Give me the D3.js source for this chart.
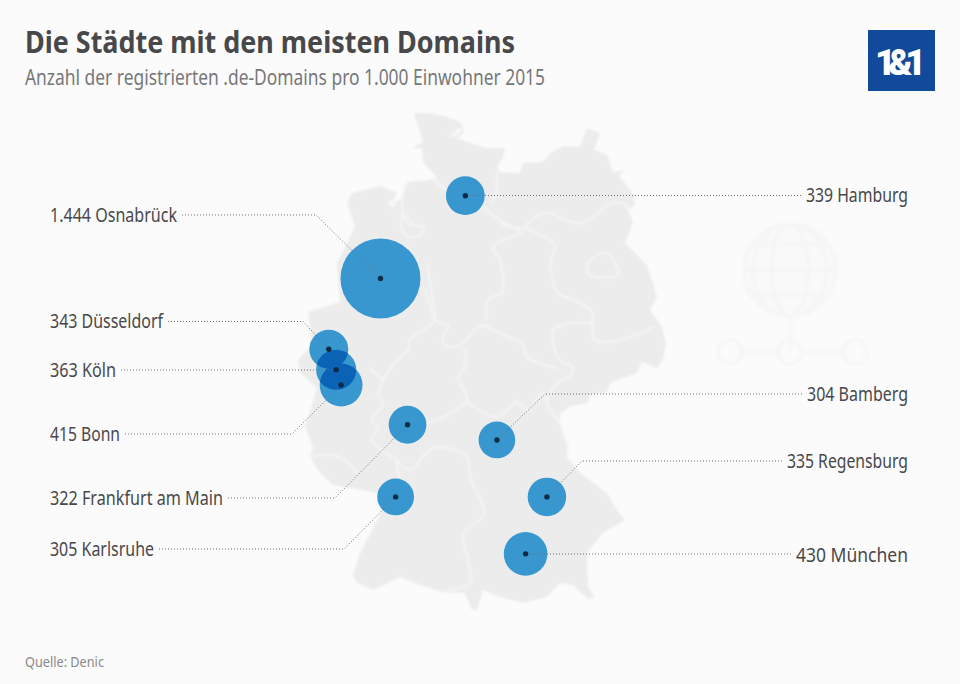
<!DOCTYPE html>
<html lang="de"><head><meta charset="utf-8">
<script src="https://cdn.jsdelivr.net/npm/d3@7/dist/d3.min.js"></script>
<style>html,body{margin:0;background:#fbfbfb}svg{display:block}text{font-family:"Noto Sans",sans-serif}</style>
</head><body><svg id="c" width="960" height="684"></svg>
<script>
// ---- data ----
const cities  = ["Hamburg","Osnabrück","Düsseldorf","Köln","Bonn","Frankfurt am Main","Karlsruhe","Bamberg","Regensburg","München"];
const domains = [339,1444,343,363,415,322,305,304,335,430];
const valueLabels = ["339","1.444","343","363","415","322","305","304","335","430"];
const lon = [10.13,8.06,6.80,6.98,7.10,8.72,8.43,10.90,12.12,11.60];
const lat = [53.55,52.30,51.23,50.92,50.69,50.09,49.00,49.86,49.00,48.14];
const side = ["r","l","l","l","l","l","l","r","r","r"];
const titleText = "Die Städte mit den meisten Domains";
const subtitleText = "Anzahl der registrierten .de-Domains pro 1.000 Einwohner 2015";
const sourceText = "Quelle: Denic";
const logoText = "1&1";

// ---- layout (label rows, baselines, leader elbows, label widths) ----
const labelRow   = [195.5,215,321.5,370,434,498,549,394,461,554];
const baseline   = [202,222,327.5,376.5,440.5,505,556,400.5,467.5,561.5];
const elbowAt    = [null,316,303,null,292,335,344,545,582,null];
const labelWidth = [102,127,113,66,70,173,104,101,121,112];

// ---- base map traced in sketch units ----
const germany = [[414,113],[428,113],[447,117],[462,123],[464,133],[456,138],[470,143],[487,148],[505,148],[503,158],[497,167],[500,172],[520,173],[523,163],[543,162],[550,153],[563,146],[580,147],[584,136],[587,128],[600,133],[594,150],[607,155],[613,172],[625,170],[619,176],[632,192],[635,205],[628,210],[633,222],[625,243],[647,265],[652,280],[657,297],[650,310],[662,327],[666,343],[663,360],[657,368],[642,362],[637,373],[610,383],[607,392],[590,395],[588,403],[572,406],[560,413],[560,427],[568,443],[567,457],[580,473],[607,493],[617,510],[625,520],[603,533],[587,553],[588,587],[595,597],[588,599],[573,585],[560,583],[547,597],[523,603],[500,597],[483,590],[477,610],[472,610],[465,593],[443,592],[420,585],[400,577],[373,590],[357,583],[353,575],[360,553],[372,530],[385,505],[378,493],[333,485],[320,473],[310,457],[313,447],[305,427],[312,405],[317,388],[300,372],[298,360],[312,345],[308,312],[340,302],[338,280],[337,263],[355,227],[347,203],[352,193],[380,186],[397,193],[392,203],[400,200],[407,182],[427,180],[437,178],[423,162],[422,148],[412,148],[423,142]];
const jadeBay = [[392,199],[397,204],[392,208],[388,203]];
const kielFjord = [[447,135],[455,137],[463,129],[458,128],[452,134]];
const berlin = [[588,263],[597,255],[605,253],[615,263],[618,275],[597,277],[588,273],[588,263]];
const borders = [
  [[433,178],[447,190],[470,200],[482,207],[500,220],[522,232]],
  [[497,172],[497,187],[492,203]],
  [[500,223],[523,228],[533,218],[550,213],[560,218],[580,223],[597,215],[607,205],[623,203],[630,210]],
  [[525,228],[555,245],[550,263],[553,280],[557,292],[580,303],[592,312],[593,337],[598,342],[627,338],[655,327]],
  [[592,323],[570,323],[553,330],[553,343],[560,360],[573,368],[568,377],[557,383],[547,403],[560,423],[567,445]],
  [[523,233],[493,247],[500,260],[502,292],[488,300],[487,320]],
  [[483,325],[500,333],[523,345],[527,357],[557,368]],
  [[425,287],[437,322],[448,325],[442,342],[450,347],[463,343],[477,327],[487,325]],
  [[465,347],[465,367],[458,377],[467,400],[443,417],[430,422],[425,427]],
  [[467,402],[497,417],[517,402],[527,410],[543,393],[547,403]],
  [[427,263],[433,303],[435,320],[410,340],[408,350],[397,360],[383,380],[378,395],[383,403],[372,420],[380,428]],
  [[370,368],[383,380]],
  [[397,460],[410,470],[433,448],[467,457],[470,477],[483,507],[483,517],[463,533],[468,560],[470,583],[447,590]],
  [[310,457],[333,455],[348,463],[357,473]],
  [[397,460],[398,473],[400,482]],
  [[380,428],[372,440],[397,460]],
  [[407,182],[402,200],[407,223],[425,228],[415,238],[403,232],[403,215],[413,223]],
];
// ---- decorative network icon, in sketch units ----
const iconCentre = [790,270], iconRadius = 46;
const iconNodes = [[730,352],[790,352],[855,352]];

// ---- scales ----
const x = d3.scaleLinear().domain([5,16]).range([255,706]);
const y = d3.scaleLinear().domain([47,55]).range([629.3,99.7]);
const r = d3.scaleSqrt().domain([0,1444]).range([0,40]);
const svg = d3.select("#c");
const line = d3.line();
const smooth = d3.line().curve(d3.curveCatmullRom.alpha(.5));

const defs = svg.append("defs");
defs.append("filter").attr("id","soft").append("feGaussianBlur").attr("stdDeviation",0.9);
defs.append("filter").attr("id","softer").append("feGaussianBlur").attr("stdDeviation",1.4);

// icon
const ic = svg.append("g").attr("filter","url(#softer)").attr("fill","none").attr("stroke","#f6f6f7").attr("stroke-width",4);
ic.append("circle").attr("cx",iconCentre[0]).attr("cy",iconCentre[1]).attr("r",iconRadius).attr("fill","#f9f9fa");
[0.4,0.8].forEach(k=>ic.append("ellipse").attr("cx",iconCentre[0]).attr("cy",iconCentre[1]).attr("rx",iconRadius*k).attr("ry",iconRadius));
[-0.55,0,0.55].forEach(k=>{const h=iconRadius*Math.sqrt(1-k*k);ic.append("line").attr("x1",iconCentre[0]-h).attr("x2",iconCentre[0]+h).attr("y1",iconCentre[1]+k*iconRadius).attr("y2",iconCentre[1]+k*iconRadius)});
ic.append("path").attr("d",line([[iconCentre[0],iconCentre[1]+iconRadius],iconNodes[1]]));
d3.pairs(iconNodes).forEach(([a,b])=>ic.append("path").attr("d",line([[a[0]+12,a[1]],[b[0]-12,b[1]]])));
iconNodes.forEach(n=>ic.append("circle").attr("cx",n[0]).attr("cy",n[1]).attr("r",12));

// map
const m = svg.append("g").attr("filter","url(#soft)");
m.append("path").attr("d",line(germany)+"Z").attr("fill","#ececed");
[jadeBay,kielFjord].forEach(p=>m.append("path").attr("d",line(p)+"Z").attr("fill","#f7f7f8"));
m.selectAll("path.b").data([...borders,berlin]).join("path").attr("class","b").attr("d",d=>smooth(d))
  .attr("fill","none").attr("stroke","#f6f6f7").attr("stroke-width",1.9);

// bubbles
const idx = d3.range(cities.length);
const bub = svg.append("g");
bub.selectAll("circle").data(idx).join("circle")
  .attr("cx",i=>x(lon[i])).attr("cy",i=>y(lat[i])).attr("r",i=>r(domains[i])).attr("fill","#3997d0");
// overlapping pairs get the darker tone
idx.forEach(a=>idx.forEach(b=>{
  if(a>=b) return;
  const d=Math.hypot(x(lon[a])-x(lon[b]),y(lat[a])-y(lat[b]));
  if(d>=r(domains[a])+r(domains[b])) return;
  defs.append("clipPath").attr("id",`cp${a}`).append("circle").attr("cx",x(lon[a])).attr("cy",y(lat[a])).attr("r",r(domains[a]));
  bub.append("circle").attr("cx",x(lon[b])).attr("cy",y(lat[b])).attr("r",r(domains[b])).attr("fill","#0b63b6").attr("clip-path",`url(#cp${a})`);
}));

// labels and leaders
const lab = svg.append("g");
const lg = svg.append("g").attr("fill","none").attr("stroke","#6f6f70").attr("stroke-width",1).attr("stroke-dasharray","1 2");
idx.forEach(i=>{
  const left = side[i]==="l", lx = left?50:908;
  lab.append("text").attr("x",lx).attr("y",baseline[i]).attr("text-anchor",left?"start":"end")
    .attr("font-size",20).attr("fill","#48484a")
    .attr("textLength",labelWidth[i]).attr("lengthAdjust","spacingAndGlyphs")
    .text(valueLabels[i]+" "+cities[i]);
  const endX = left?lx+labelWidth[i]+5:lx-labelWidth[i]-5;
  const pts = [[endX,labelRow[i]]];
  if(elbowAt[i]!==null) pts.push([elbowAt[i],labelRow[i]]);
  pts.push([x(lon[i]),elbowAt[i]===null?labelRow[i]:y(lat[i])]);
  lg.append("path").attr("d",line(pts));
});
svg.append("g").selectAll("circle").data(idx).join("circle")
  .attr("cx",i=>x(lon[i])).attr("cy",i=>y(lat[i])).attr("r",2.7).attr("fill","#0e2b47");

// header, footer, logo
svg.append("text").attr("x",25).attr("y",52.5).attr("font-size",30.5).attr("font-weight",700).attr("fill","#48484a")
  .attr("textLength",490).attr("lengthAdjust","spacingAndGlyphs").text(titleText);
svg.append("text").attr("x",25).attr("y",84.5).attr("font-size",22).attr("fill","#77787a")
  .attr("textLength",520).attr("lengthAdjust","spacingAndGlyphs").text(subtitleText);
svg.append("text").attr("x",25).attr("y",667).attr("font-size",15).attr("fill","#88888a")
  .attr("textLength",79).attr("lengthAdjust","spacingAndGlyphs").text(sourceText);
svg.append("rect").attr("x",868).attr("y",30).attr("width",67).attr("height",61).attr("fill","#114a9b");
svg.append("text").attr("x",875).attr("y",75).attr("font-size",36).attr("font-weight",900)
  .style("font-family","Roboto,sans-serif").attr("fill","#fff").attr("letter-spacing",-7.5).text(logoText);
</script></body></html>
